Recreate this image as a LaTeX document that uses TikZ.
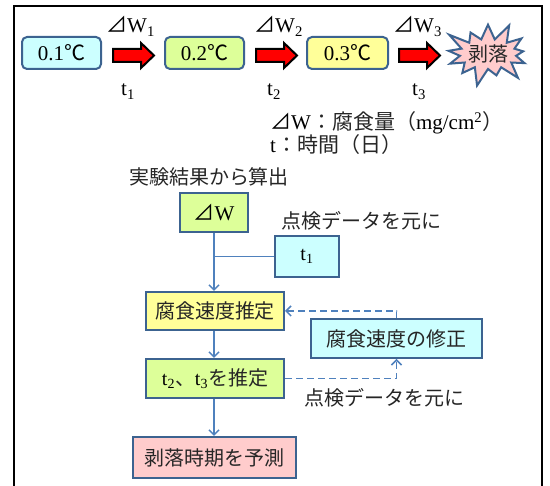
\documentclass[tikz,border=0pt]{standalone}
\usepackage{fontspec}
\setmainfont{Liberation Serif}
\newfontfamily\jp{Noto Sans CJK JP}
\usetikzlibrary{shapes.symbols,arrows.meta,calc}
\definecolor{bord}{HTML}{3C6390}
\definecolor{conn}{HTML}{4F81BD}
\definecolor{fcyan}{HTML}{CCFFFF}
\definecolor{fgreen}{HTML}{DDFF99}
\definecolor{fyellow}{HTML}{FFFF99}
\definecolor{fpink}{HTML}{FFCCCC}
\definecolor{jtext}{HTML}{262626}
\newcommand{\blockarr}[1]{%
  \draw[barrow] (#1,49) -- ({#1+28},49) -- ({#1+28},43) -- ({#1+41},55.5) -- ({#1+28},68) -- ({#1+28},62) -- (#1,62) -- cycle;}
\begin{document}
\begin{tikzpicture}[x=1pt,y=-1pt,
  lat/.style={font=\fontsize{21}{24}\selectfont},
  jpt/.style={font=\fontsize{20}{24}\selectfont\jp,text=jtext},
  rbox/.style={draw=bord,line width=2pt,rounded corners=5pt,inner sep=0pt,font=\fontsize{21}{24}\selectfont},
  sbox/.style={draw=bord,line width=2pt,inner sep=0pt,font=\fontsize{20}{24}\selectfont},
  barrow/.style={fill=red,draw=black,line width=2pt,line join=miter},
  conline/.style={draw=conn,line width=1.5pt},
  tipV/.style={-{Straight Barb[length=5pt,width=10pt,line width=1.5pt]}},
  dashedline/.style={conline,dash pattern=on 7pt off 4pt}]
\useasboundingbox (0,0) rectangle (550,486);
\fill[white] (0,0) rectangle (550,486);
% frame
\draw[line width=2pt] (14,495) -- (14,6.5) -- (541.5,6.5) -- (541.5,495);
% top row
\node[rbox,fill=fcyan,minimum width=79pt,minimum height=32pt] (b1) at (61.5,53) {0.1{\jp ℃}};
\node[rbox,fill=fgreen,minimum width=79pt,minimum height=32pt] (b2) at (204.5,53) {0.2{\jp ℃}};
\node[rbox,fill=fyellow,minimum width=81pt,minimum height=32pt] (b3) at (347.5,53) {0.3{\jp ℃}};
\node[starburst,starburst points=13,starburst point height=20pt,draw=bord,line width=2pt,fill=fpink,
  minimum width=90pt,minimum height=70pt,inner sep=0pt,jpt] (st) at (488,54) {剥落};
\blockarr{113}
\blockarr{256}
\blockarr{399}
\node[lat,anchor=base west,inner sep=0pt] (w1) at (106,33) {{\jp ⊿}W\textsubscript{1}};
\node[lat,anchor=base west,inner sep=0pt] (w2) at (254,33) {{\jp ⊿}W\textsubscript{2}};
\node[lat,anchor=base west,inner sep=0pt] (w3) at (393,33) {{\jp ⊿}W\textsubscript{3}};
\node[lat,anchor=base west,inner sep=0pt] (t1) at (121,96) {t\textsubscript{1}};
\node[lat,anchor=base west,inner sep=0pt] (t2) at (267,96) {t\textsubscript{2}};
\node[lat,anchor=base west,inner sep=0pt] (t3) at (412,96) {t\textsubscript{3}};
% legend
\node[lat,anchor=base west,inner sep=0pt] (lg1) at (270,130) {{\jp ⊿}W{\jp\color{jtext} ：腐食量（}mg/cm\textsuperscript{2}{\jp\color{jtext} ）}};
\node[lat,anchor=base west,inner sep=0pt] (lg2) at (270,153) {t{\jp\color{jtext} ：時間（日）}};
% lower flow
\node[jpt,inner sep=0pt] (lbA) at (209,177) {実験結果から算出};
\node[sbox,fill=fgreen,minimum width=68pt,minimum height=39pt,font=\fontsize{21}{24}\selectfont] (dW) at (214,212.5) {{\jp ⊿}W};
\node[jpt,inner sep=0pt] (lbB) at (361.5,221) {点検データを元に};
\node[sbox,fill=fcyan,minimum width=64pt,minimum height=41pt,font=\fontsize{20}{24}\selectfont] (tb) at (307,256.5) {t\textsubscript{1}};
\node[sbox,fill=fyellow,minimum width=138pt,minimum height=38pt,font=\fontsize{20}{24}\selectfont\jp,text=jtext] (est) at (215,311) {腐食速度推定};
\node[sbox,fill=fcyan,minimum width=171pt,minimum height=39pt,font=\fontsize{20}{24}\selectfont\jp,text=jtext] (corr) at (396.5,338.5) {腐食速度の修正};
\node[sbox,fill=fgreen,minimum width=138pt,minimum height=39pt,font=\fontsize{20}{24}\selectfont] (t23) at (215,378.5) {t\textsubscript{2}{\jp\color{jtext} 、}t\textsubscript{3}{\jp\color{jtext} を推定}};
\node[jpt,inner sep=0pt] (lbC) at (384,398) {点検データを元に};
\node[sbox,fill=fpink,minimum width=163pt,minimum height=41pt,font=\fontsize{20}{24}\selectfont\jp,text=jtext] (pred) at (214.5,457.5) {剥落時期を予測};
% connectors
\draw[conline,tipV] (dW.south) -- (dW.south |- est.north);
\draw[conline] (tb.west) -- (dW.south |- tb.west);
\draw[conline,tipV] (est.south -| dW.south) -- (t23.north -| dW.south);
\draw[conline,tipV] (t23.south -| dW.south) -- (pred.north -| dW.south);
\draw[dashedline,tipV] (corr.north) |- (est.east);
\draw[dashedline,tipV] (t23.east) -| (corr.south);
\end{tikzpicture}
\end{document}
